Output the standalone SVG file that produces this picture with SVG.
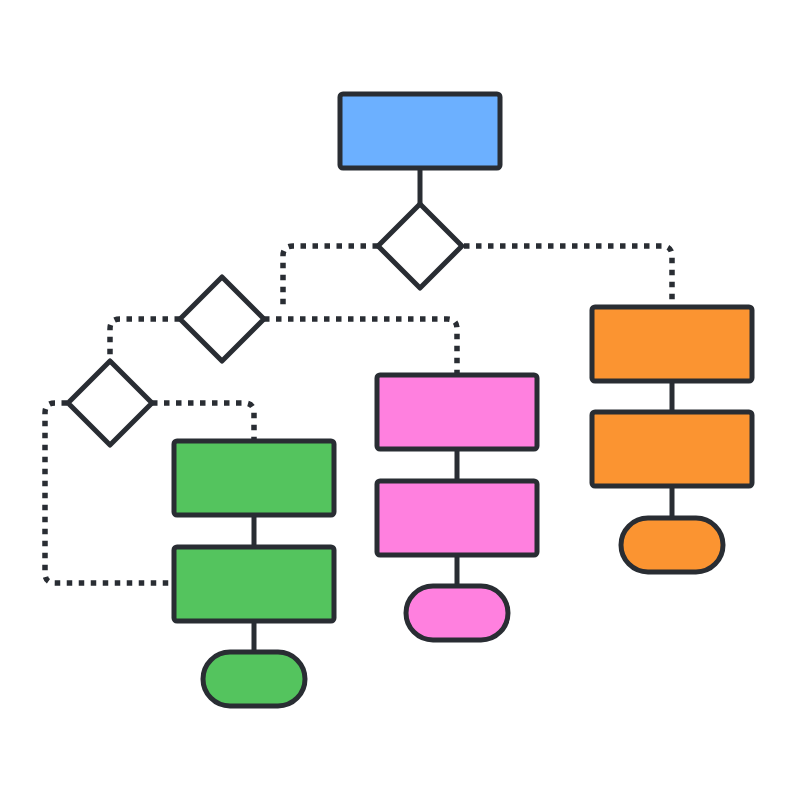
<svg xmlns="http://www.w3.org/2000/svg" width="800" height="800" viewBox="0 0 800 800">
<style>
.n{stroke:#292d33;stroke-width:5;stroke-linejoin:round}
.box{rx:3}
.blue{fill:#6cb0ff}
.green{fill:#54c45e}
.pink{fill:#ff80df}
.orange{fill:#fb9431}
.dia{fill:#ffffff}
.solid{stroke:#292d33;stroke-width:5;fill:none}
.dot{stroke:#292d33;stroke-width:5.5;fill:none;stroke-dasharray:5.5 6.5}
</style>
<rect width="800" height="800" fill="#ffffff"/>
<g id="connectors">
<path class="solid" d="M420 168V206"/>
<path class="solid" d="M254 515V547M254 621V652"/>
<path class="solid" d="M457 449V481M457 555V586"/>
<path class="solid" d="M672 381V412M672 486V518"/>
<path class="dot" d="M378 246H293Q283 246 283 256V305"/>
<path class="dot" d="M464 246H662Q672 246 672 256V301"/>
<path class="dot" d="M180 319H120Q110 319 110 329V362"/>
<path class="dot" d="M264 319H447Q457 319 457 329V374"/>
<path class="dot" d="M67 403H55Q45 403 45 413V573Q45 583 55 583H174"/>
<path class="dot" d="M152 403H244Q254 403 254 413V440"/>
</g>
<g id="start"><rect class="n box blue" x="340" y="94" width="160" height="74"/></g>
<g id="decision1"><polygon class="n dia" points="420,204 462,246 420,288 378,246"/></g>
<g id="decision2"><polygon class="n dia" points="222,277 264,319 222,361 180,319"/></g>
<g id="decision3"><polygon class="n dia" points="110,361 152,403 110,445 68,403"/></g>
<g id="green1"><rect class="n box green" x="174" y="441" width="160" height="74"/></g>
<g id="green2"><rect class="n box green" x="174" y="547" width="160" height="74"/></g>
<g id="green-end"><rect class="n green" x="203" y="652" width="102" height="54" rx="27"/></g>
<g id="pink1"><rect class="n box pink" x="377" y="375" width="160" height="74"/></g>
<g id="pink2"><rect class="n box pink" x="377" y="481" width="160" height="74"/></g>
<g id="pink-end"><rect class="n pink" x="406" y="586" width="102" height="54" rx="27"/></g>
<g id="orange1"><rect class="n box orange" x="592" y="307" width="160" height="74"/></g>
<g id="orange2"><rect class="n box orange" x="592" y="412" width="160" height="74"/></g>
<g id="orange-end"><rect class="n orange" x="621" y="518" width="102" height="54" rx="27"/></g>
</svg>
